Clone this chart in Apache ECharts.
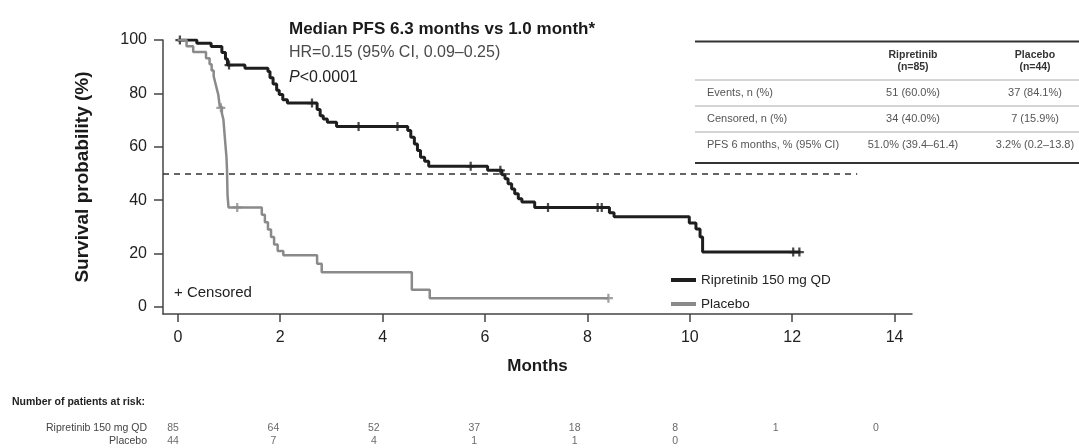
<!DOCTYPE html>
<html>
<head>
<meta charset="utf-8">
<script src="https://cdn.jsdelivr.net/npm/echarts@6/dist/echarts.min.js"></script>
<style>
html,body{margin:0;padding:0;background:#fff;}
#chart{width:1079px;height:448px;}
</style>
</head>
<body>
<div id="chart"></div>
<script>
var FONT = '"Liberation Sans", Arial, sans-serif';

// Kaplan-Meier steps, [months, survival %]
var ripretinibSteps = [
  [0,100],[0.37,98.8],[0.65,97.6],[0.86,95.3],[0.93,92.9],[0.97,90.6],[1.31,89.4],
  [1.76,88.2],[1.8,85.9],[1.86,83.5],[1.93,81.2],[1.98,79.6],[2.05,77.6],[2.14,76.4],
  [2.72,74.0],[2.78,71.6],[2.84,70.4],[2.92,69.2],[3.1,67.6],
  [4.49,66.1],[4.55,63.6],[4.62,61.1],[4.68,58.6],[4.74,56.1],[4.82,54.6],[4.9,52.7],
  [6.05,51.2],[6.33,49.5],[6.39,48.0],[6.45,46.2],[6.52,44.2],[6.58,42.4],[6.65,40.6],[6.72,39.3],[6.97,37.3],
  [8.43,35.3],[8.52,33.8],
  [9.99,31.5],[10.12,29.2],[10.2,26.2],[10.25,20.6],[12.16,20.6]
];
var placeboSteps = [
  [0,100],[0.17,97.7],[0.3,95.5],[0.55,93.2],[0.62,90.9],[0.66,88.6],[0.7,86.4],[0.73,84.1],
  [0.76,81.8],[0.79,79.5],[0.82,75.0],[0.86,72.6],[0.89,70.2],[0.91,65.4],[0.93,60.6],
  [0.95,56.0],[0.96,51.4],[0.965,46.8],[0.97,42.2],[0.98,39.6],[0.99,37.3],
  [1.64,34.6],[1.7,31.8],[1.76,29.0],[1.82,26.2],[1.88,23.4],[1.95,21.0],[2.06,19.4],
  [2.72,16.2],[2.81,13.0],[4.57,6.5],[4.92,3.3],[8.41,3.3]
];
var ripretinibCensored = [
  [0.04,100],[1.0,90.6],[2.62,76.4],[3.53,67.6],[4.29,67.6],[5.72,52.7],[6.3,51.2],
  [7.23,37.3],[8.2,37.3],[8.28,37.3],[12.02,20.6],[12.14,20.6]
];
var placeboCensored = [[0.84,74.6],[1.16,37.3],[8.41,3.3]];

var xTicks = [0, 2, 4, 6, 8, 10, 12, 14];
var yTicks = [0, 20, 40, 60, 80, 100];

// number at risk
var riskMonths = [0, 2, 4, 6, 8, 10, 12, 14];
var riskRows = ['Ripretinib 150 mg QD', 'Placebo'];
var riskRipretinib = [85, 64, 52, 37, 18, 8, 1, 0];
var riskPlacebo = [44, 7, 4, 1, 1, 0];

// summary table
var tableHeads = ['Ripretinib\n(n=85)', 'Placebo\n(n=44)'];
var tableRows = ['Events, n (%)', 'Censored, n (%)', 'PFS 6 months, % (95% CI)'];
var tableRipretinib = ['51 (60.0%)', '34 (40.0%)', '51.0% (39.4–61.4)'];
var tablePlacebo = ['37 (84.1%)', '7 (15.9%)', '3.2% (0.2–13.8)'];

var BLACK = '#1e1e1e';
var GREY = '#8a8a8a';
var PLUS = 'path://M3,0h2v3h3v2h-3v3h-2v-3h-3v-2h3z';

var chart = echarts.init(document.getElementById('chart'));

// table drawn as graphic elements
var graphic = [];
function hline(y, w, c) {
  graphic.push({type: 'line', shape: {x1: 695, y1: y, x2: 1079, y2: y},
    style: {stroke: c, lineWidth: w}, silent: true});
}
function txt(x, y, s, opt) {
  var st = {text: s, x: x, y: y, font: (opt.weight || 'normal') + ' ' + opt.size + 'px ' + FONT,
    fill: opt.color || '#222', align: opt.align || 'left', verticalAlign: 'middle',
    lineHeight: opt.lineHeight};
  if (opt.rich) st.rich = opt.rich;
  graphic.push({type: 'text', style: st, silent: true});
}
hline(41.5, 2, '#333');
hline(80, 1, '#aaa');
hline(106, 1, '#aaa');
hline(132, 1, '#aaa');
hline(163, 2, '#333');
var colX = [913, 1035];
tableHeads.forEach(function (h, i) {
  txt(colX[i], 61, h, {size: 10.5, weight: 'bold', align: 'center', color: '#333', lineHeight: 12});
});
var rowY = [93, 119, 145];
tableRows.forEach(function (r, i) {
  txt(707, rowY[i], r, {size: 11, color: '#555'});
  txt(colX[0], rowY[i], tableRipretinib[i], {size: 11, color: '#555', align: 'center'});
  txt(colX[1], rowY[i], tablePlacebo[i], {size: 11, color: '#555', align: 'center'});
});

// headline text
txt(289, 29, 'Median PFS 6.3 months vs 1.0 month*', {size: 17, weight: 'bold', color: '#1a1a1a'});
txt(289, 53, 'HR=0.15 (95% CI, 0.09–0.25)', {size: 16, color: '#4a4a4a'});
txt(289, 78, '{i|P}<0.0001', {size: 16, color: '#222',
  rich: {i: {fontStyle: 'italic', fontSize: 16, fontFamily: FONT, fill: '#222'}}});
txt(174, 293, '+ Censored', {size: 15, color: '#222'});
txt(12, 402, 'Number of patients at risk:', {size: 10.5, weight: 'bold', color: '#222'});

function riskData(vals, row) {
  return vals.map(function (v, i) { return [riskMonths[i], row, v]; });
}

var option = {
  animation: false,
  backgroundColor: '#fff',
  textStyle: {fontFamily: FONT},
  graphic: graphic,
  legend: {
    data: ['Ripretinib 150 mg QD', 'Placebo'],
    orient: 'vertical',
    left: 666, top: 268,
    icon: 'rect', itemWidth: 25, itemHeight: 4, itemGap: 10,
    textStyle: {fontSize: 13.5, color: '#222', fontFamily: FONT}
  },
  grid: [
    {left: 163, top: 40, width: 749, height: 274},
    {left: 173, top: 421, width: 703, height: 27}
  ],
  xAxis: [{
    gridIndex: 0, type: 'value', min: -0.29, max: 14.34,
    name: 'Months', nameLocation: 'middle', nameGap: 44,
    nameTextStyle: {fontSize: 17, fontWeight: 'bold', color: '#1a1a1a'},
    axisLine: {onZero: false, lineStyle: {color: '#444', width: 1.5}},
    axisTick: {length: 8, lineStyle: {color: '#444', width: 1.5}, customValues: xTicks},
    axisLabel: {fontSize: 16, color: '#222', margin: 16, customValues: xTicks},
    splitLine: {show: false}
  }, {
    gridIndex: 1, type: 'value', min: 0, max: 14, show: false
  }],
  yAxis: [{
    gridIndex: 0, type: 'value', min: -2.6, max: 100,
    name: 'Survival probability (%)', nameLocation: 'middle', nameGap: 71,
    nameMoveOverlap: false,
    nameTextStyle: {fontSize: 19, fontWeight: 'bold', color: '#1a1a1a'},
    axisLine: {show: true, onZero: false, lineStyle: {color: '#444', width: 1.5}},
    axisTick: {show: true, length: 9, lineStyle: {color: '#444', width: 1.5}, customValues: yTicks},
    axisLabel: {fontSize: 16, color: '#222', margin: 16, customValues: yTicks},
    splitLine: {show: false}
  }, {
    gridIndex: 1, type: 'category', inverse: true, data: riskRows,
    axisLine: {show: false}, axisTick: {show: false},
    axisLabel: {fontSize: 10.5, color: '#444', margin: 26, interval: 0}
  }],
  series: [{
    name: 'Ripretinib 150 mg QD', type: 'line', step: 'end',
    xAxisIndex: 0, yAxisIndex: 0, data: ripretinibSteps,
    showSymbol: false, color: BLACK,
    lineStyle: {color: BLACK, width: 3},
    markLine: {
      silent: true, symbol: 'none', label: {show: false},
      lineStyle: {color: '#333', width: 1.5, type: [6, 5]},
      data: [[{coord: [-0.29, 50]}, {coord: [13.27, 50]}]]
    }
  }, {
    name: 'Placebo', type: 'line', step: 'end',
    xAxisIndex: 0, yAxisIndex: 0, data: placeboSteps,
    showSymbol: false, color: GREY,
    lineStyle: {color: GREY, width: 2.5}
  }, {
    name: 'censor-r', type: 'scatter', xAxisIndex: 0, yAxisIndex: 0,
    data: ripretinibCensored, symbol: PLUS, symbolSize: 9,
    itemStyle: {color: BLACK}, silent: true
  }, {
    name: 'censor-p', type: 'scatter', xAxisIndex: 0, yAxisIndex: 0,
    data: placeboCensored, symbol: PLUS, symbolSize: 9,
    itemStyle: {color: GREY}, silent: true
  }, {
    name: 'risk-r', type: 'scatter', xAxisIndex: 1, yAxisIndex: 1,
    data: riskData(riskRipretinib, riskRows[0]), symbolSize: 1,
    itemStyle: {color: 'rgba(0,0,0,0)'}, silent: true,
    label: {show: true, position: 'inside', formatter: function (p) { return p.value[2]; },
      fontSize: 10.5, color: '#444'}
  }, {
    name: 'risk-p', type: 'scatter', xAxisIndex: 1, yAxisIndex: 1,
    data: riskData(riskPlacebo, riskRows[1]), symbolSize: 1,
    itemStyle: {color: 'rgba(0,0,0,0)'}, silent: true,
    label: {show: true, position: 'inside', formatter: function (p) { return p.value[2]; },
      fontSize: 10.5, color: '#444'}
  }]
};
chart.setOption(option);
</script>
</body>
</html>
